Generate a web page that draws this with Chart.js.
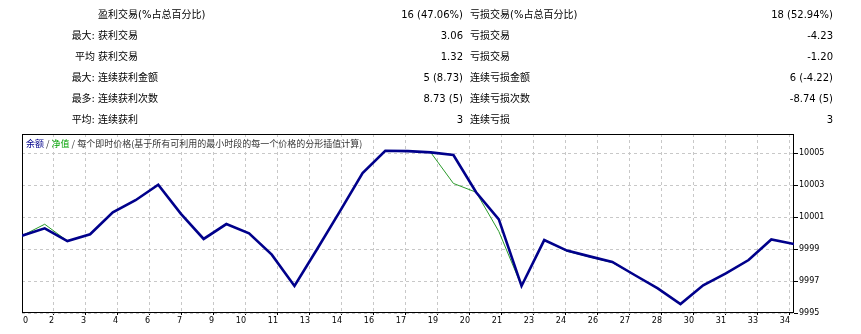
<!DOCTYPE html>
<html>
<head>
<meta charset="utf-8">
<script src="https://cdn.jsdelivr.net/npm/chart.js@4.4.1/dist/chart.umd.min.js"></script>
<style>
body { margin: 0; background: #fff; font-family: "DejaVu Sans", "Noto Sans CJK SC", sans-serif; }
#wrap { position: relative; width: 861px; height: 334px; overflow: hidden; }
#grafico { position: absolute; left: 0; top: 0; }
.t { position: absolute; font-size: 10px; line-height: 14px; color: #000; white-space: pre; }
.r { text-align: right; }
#titulo { position: absolute; left: 26px; top: 138px; font-size: 9px; line-height: 12px; color: #333;
  white-space: pre; font-family: "Noto Sans CJK SC", "DejaVu Sans", sans-serif; }
</style>
</head>
<body>
<div id="wrap">
  <canvas id="grafico" width="861" height="334"></canvas>
  <div id="tabela"></div>
  <div id="titulo"><span style="color:#00008b">余额</span> / <span style="color:#00a000">净值</span> / 每个即时价格(基于所有可利用的最小时段的每一个价格的分形插值计算)</div>
</div>
<script>
// tabela de estatísticas
const prefixos = ['', '最大:', '平均', '最大:', '最多:', '平均:']
const rotulosGanho = ['盈利交易(%占总百分比)', '获利交易', '获利交易', '连续获利金额', '连续获利次数', '连续获利']
const valoresGanho = ['16 (47.06%)', '3.06', '1.32', '5 (8.73)', '8.73 (5)', '3']
const rotulosPerda = ['亏损交易(%占总百分比)', '亏损交易', '亏损交易', '连续亏损金额', '连续亏损次数', '连续亏损']
const valoresPerda = ['18 (52.94%)', '-4.23', '-1.20', '6 (-4.22)', '-8.74 (5)', '3']

// dados do gráfico (número da operação -> saldo / patrimônio)
const operacoes = [0, 1, 2, 3, 4, 5, 6, 7, 8, 9, 10, 11, 12, 13, 14, 15, 16, 17, 18, 19, 20, 21, 22, 23, 24, 25, 26, 27, 28, 29, 30, 31, 32, 33, 34]
const saldo = [9999.83, 10000.29, 9999.50, 9999.92, 10001.29, 10002.05, 10003.02, 10001.20, 9999.63, 10000.56,
  9999.98, 9998.65, 9996.69, 9999.00, 10001.35, 10003.75, 10005.14, 10005.12, 10005.04, 10004.88,
  10002.55, 10000.85, 9996.69, 9999.56, 9998.90, 9998.54, 9998.19, 9997.36, 9996.54, 9995.56,
  9996.73, 9997.48, 9998.31, 9999.60, 9999.31]
const patrimonio = [9999.83, 10000.55, 9999.50, 9999.92, 10001.29, 10002.05, 10003.02, 10001.20, 9999.63, 10000.58,
  9999.98, 9998.65, 9996.69, 9999.00, 10001.35, 10003.75, 10005.14, 10005.12, 10005.04, 10003.10,
  10002.55, 10000.10, 9996.69, 9999.56, 9998.86, 9998.50, 9998.15, 9997.36, 9996.54, 9995.56,
  9996.73, 9997.48, 9998.31, 9999.60, 9999.31]
const ticksY = [9995, 9997, 9999, 10001, 10003, 10005]
const rotulosX = ['0', '2', '3', '4', '6', '7', '9', '10', '11', '13', '14', '16', '17', '19', '20', '21', '23', '24', '26', '27', '28', '30', '31', '33', '34']

const passoGradeX = 1.4093 // uma linha de grade a cada 32px

function montarTabela() {
    const tabela = document.getElementById('tabela')
    let html = ''
    prefixos.forEach((p, i) => {
        const topo = 8 + i * 20.9
        html += `<div class="t r" style="left:0;width:95px;top:${topo}px">${p}</div>`
        html += `<div class="t" style="left:98px;top:${topo}px">${rotulosGanho[i]}</div>`
        html += `<div class="t r" style="left:300px;width:163px;top:${topo}px">${valoresGanho[i]}</div>`
        html += `<div class="t" style="left:470px;top:${topo}px">${rotulosPerda[i]}</div>`
        html += `<div class="t r" style="left:640px;width:193px;top:${topo}px">${valoresPerda[i]}</div>`
    })
    tabela.innerHTML = html
}

// moldura preta em volta da área do gráfico
const moldura = {
    id: 'moldura',
    beforeDatasetsDraw(chart) {
        const { ctx, chartArea: a } = chart
        ctx.save()
        ctx.strokeStyle = '#000'
        ctx.lineWidth = 1
        ctx.strokeRect(a.left + 0.5, a.top + 0.5, a.right - a.left - 1, a.bottom - a.top - 1)
        ctx.restore()
    }
}

function desenharGrafico() {
    const ctx = document.getElementById('grafico').getContext('2d')
    const fonteEixo = { family: 'DejaVu Sans', size: 8 }

    new Chart(ctx, {
        type: 'line',
        data: {
            datasets: [{
                label: '余额',
                data: operacoes.map((x, i) => ({ x, y: saldo[i] })),
                borderColor: '#00008b',
                borderWidth: 2.6,
                pointRadius: 0,
                tension: 0,
                fill: false
            }, {
                label: '净值',
                data: operacoes.map((x, i) => ({ x, y: patrimonio[i] })),
                borderColor: '#2a9a2a',
                borderWidth: 1,
                pointRadius: 0,
                tension: 0,
                fill: false
            }]
        },
        options: {
            responsive: false,
            animation: false,
            layout: { padding: { left: 22, top: 134, right: 0, bottom: 0 } },
            plugins: { legend: { display: false }, tooltip: { enabled: false } },
            scales: {
                x: {
                    type: 'linear',
                    min: 0,
                    max: 34,
                    afterBuildTicks: axis => {
                        // o primeiro rótulo fica um pouco para dentro, como no original
                        axis.ticks = rotulosX.map((r, i) => ({ value: i === 0 ? 0.27 : i * passoGradeX }))
                    },
                    afterFit: s => { s.height = 21 },
                    ticks: {
                        autoSkip: false,
                        maxRotation: 0,
                        align: 'end',
                        padding: 1,
                        color: '#000',
                        font: fonteEixo,
                        callback: (v, i) => rotulosX[i]
                    },
                    grid: {
                        color: c => c.index === 0 ? 'rgba(0,0,0,0)' : '#c8c8c8',
                        tickColor: c => c.index === 0 ? 'rgba(0,0,0,0)' : '#000',
                        tickLength: 2
                    },
                    border: { display: false, dash: [3, 3] }
                },
                y: {
                    position: 'right',
                    min: 9995,
                    max: 10006.19,
                    afterBuildTicks: axis => { axis.ticks = ticksY.map(v => ({ value: v })) },
                    afterFit: s => { s.width = 67 },
                    ticks: {
                        padding: 1,
                        color: '#000',
                        font: fonteEixo,
                        callback: v => String(v)
                    },
                    grid: { color: '#c8c8c8', tickColor: '#000', tickLength: 4 },
                    border: { display: false, dash: [3, 3] }
                }
            }
        },
        plugins: [moldura]
    })
}

montarTabela()
desenharGrafico()
</script>
</body>
</html>
